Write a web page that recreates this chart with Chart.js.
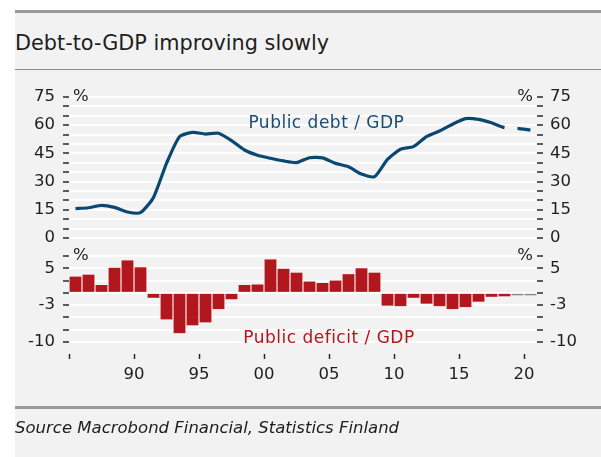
<!DOCTYPE html>
<html>
<head>
<meta charset="utf-8">
<title>Debt-to-GDP improving slowly</title>
<script src="https://cdn.jsdelivr.net/npm/chart.js@4.4.1/dist/chart.umd.min.js"></script>
<style>
  html, body { margin: 0; padding: 0; background: #fff; }
  body { width: 601px; height: 457px; position: relative; overflow: hidden; font-family: 'DejaVu Sans', sans-serif; color: #1e1e1e; }
  .panel { position: absolute; left: 15px; top: 10px; right: 0; bottom: 0; background: #f2f2f2; border-top: 3px solid #9a9a9a; }
  .title { position: absolute; left: 15px; top: 33px; font-size: 20.8px; line-height: 20px; white-space: nowrap; }
  .rule { position: absolute; left: 15px; right: 0; top: 69px; height: 1px; background: #8c8c8c; }
  .rule.foot { top: 406px; height: 3px; background: #9a9a9a; }
  .source { position: absolute; left: 15px; top: 419px; font-size: 16.5px; line-height: 17px; font-style: italic; white-space: nowrap; }
  canvas { position: absolute; left: 0; top: 0; }
</style>
</head>
<body>
<div class="panel"></div>
<div class="title">Debt-to-GDP improving slowly</div>
<div class="rule"></div>
<canvas id="debtChart" width="601" height="457"></canvas>
<div class="rule foot"></div>
<div class="source">Source Macrobond Financial, Statistics Finland</div>

<script>
// Finland: public debt and public deficit, % of GDP (2019-2020 forecast)
const years = [1985, 1986, 1987, 1988, 1989, 1990, 1991, 1992, 1993, 1994, 1995, 1996,
               1997, 1998, 1999, 2000, 2001, 2002, 2003, 2004, 2005, 2006, 2007, 2008,
               2009, 2010, 2011, 2012, 2013, 2014, 2015, 2016, 2017, 2018, 2019, 2020];
const debtRatio = [15.6, 16.1, 17.4, 16.3, 13.8, 13.5, 21.6, 39.7, 53.9, 56.2, 55.3, 55.7,
                   51.8, 46.8, 44.0, 42.4, 41.0, 40.1, 42.7, 42.6, 39.7, 37.9, 34.0, 32.6,
                   41.8, 47.2, 48.6, 53.9, 56.9, 60.5, 63.5, 63.1, 61.3, 58.7, 58.3, 57.4];
const deficitRatio = [3.3, 3.7, 1.6, 5.1, 6.6, 5.2, -1.0, -5.4, -8.2, -6.6, -6.0, -3.3,
                      -1.3, 1.6, 1.7, 6.8, 4.9, 4.1, 2.3, 2.0, 2.5, 3.8, 5.0, 4.1,
                      -2.6, -2.7, -1.0, -2.2, -2.7, -3.3, -2.9, -1.8, -0.8, -0.7, -0.5, -0.5];
const forecastFrom = 2019;

// axis ticks and the labels printed on them
const xTickValues = [1985, 1990, 1995, 2000, 2005, 2010, 2015, 2020];
const xTickLabels = ['', '90', '95', '00', '05', '10', '15', '20'];
const debtTickValues = [0, 5, 10, 15, 20, 25, 30, 35, 40, 45, 50, 55, 60, 65, 70, 75];
const debtTickLabels = { 0: '0', 15: '15', 30: '30', 45: '45', 60: '60', 75: '75' };
const deficitTickValues = [-10, -7.5, -5, -2.5, 0, 2.5, 5, 7.5];
const deficitTickLabels = { 5: '5', '-2.5': '-3', '-10': '-10' };

const DEBT_BLUE = '#0b4870';
const DEFICIT_RED = '#b2171e';
const FORECAST_GREY = '#8a8a8a';
const TEXT = '#1e1e1e';
const FONT = "'DejaVu Sans', sans-serif";

const forecastIndex = years.indexOf(forecastFrom);

function setTicks(values) {
    return scale => { scale.ticks = values.map(v => ({ value: v })); };
}

function yAxis(opts) {
    const onLeft = opts.position === 'left';
    return {
        type: 'linear',
        position: opts.position,
        stack: opts.position,
        stackWeight: opts.weight,
        min: opts.min,
        max: opts.max,
        afterBuildTicks: setTicks(opts.ticks),
        afterFit: scale => { scale.width = onLeft ? 69 : 64; },
        border: { display: false },
        grid: {
            drawOnChartArea: onLeft,
            color: '#ffffff',
            lineWidth: 2,
            tickColor: '#2a2a2a',
            tickWidth: 1.5,
            tickLength: 6
        },
        ticks: {
            autoSkip: false,
            padding: onLeft ? 8 : 7,
            color: TEXT,
            font: { family: FONT, size: 16.5 },
            callback: v => opts.labels[v] || ''
        }
    };
}

// "%" unit markers and the series captions
const captionsPlugin = {
    id: 'captions',
    afterDraw(chart) {
        const { ctx, chartArea, scales } = chart;
        ctx.save();
        ctx.font = `16.5px ${FONT}`;
        ctx.fillStyle = TEXT;
        ctx.textBaseline = 'middle';
        [[scales.yDebt, 75], [scales.yDef, 7.5]].forEach(([scale, top]) => {
            const y = scale.getPixelForValue(top);
            ctx.textAlign = 'left';
            ctx.fillText('%', chartArea.left + 4, y);
            ctx.textAlign = 'right';
            ctx.fillText('%', chartArea.right - 4, y);
        });

        ctx.font = `17px ${FONT}`;
        ctx.textAlign = 'left';
        ctx.textBaseline = 'alphabetic';
        ctx.letterSpacing = '0.5px';
        ctx.fillStyle = '#174d74';
        ctx.fillText('Public debt / GDP', scales.x.getPixelForValue(1998.8), scales.yDebt.getPixelForValue(58.5));
        ctx.fillStyle = DEFICIT_RED;
        ctx.fillText('Public deficit / GDP', scales.x.getPixelForValue(1998.4), scales.yDef.getPixelForValue(-10.2));
        ctx.restore();
    }
};

new Chart(document.getElementById('debtChart'), {
    data: {
        datasets: [
            {
                type: 'line',
                label: 'Public debt / GDP',
                data: years.map((y, i) => ({ x: y + 0.5, y: debtRatio[i] })),
                yAxisID: 'yDebt',
                borderColor: DEBT_BLUE,
                borderWidth: 3.2,
                borderJoinStyle: 'round',
                tension: 0.2,
                pointRadius: 0,
                segment: {
                    borderDash: c => c.p0DataIndex >= forecastIndex - 1 ? [13, 13] : undefined,
                    borderDashOffset: c => c.p0DataIndex >= forecastIndex - 1 ? 13 : 0
                }
            },
            {
                type: 'bar',
                label: 'Public deficit / GDP',
                data: years.map((y, i) => ({ x: y + 0.5, y: deficitRatio[i] })),
                yAxisID: 'yDef',
                backgroundColor: years.map(y => y >= forecastFrom ? FORECAST_GREY : DEFICIT_RED),
                categoryPercentage: 1,
                barPercentage: 0.91
            }
        ]
    },
    options: {
        responsive: false,
        animation: false,
        layout: { padding: { top: 97, left: 0, right: 0, bottom: 0 } },
        plugins: { legend: { display: false }, tooltip: { enabled: false } },
        scales: {
            x: {
                type: 'linear',
                min: 1985,
                max: 2021,
                offset: false,
                afterBuildTicks: setTicks(xTickValues),
                afterFit: scale => { scale.height = 103; },
                border: { display: false },
                grid: { offset: false, drawOnChartArea: false, tickColor: '#2a2a2a', tickWidth: 1.5, tickLength: 5 },
                ticks: {
                    autoSkip: false,
                    maxRotation: 0,
                    padding: 6,
                    color: TEXT,
                    font: { family: FONT, size: 16.5 },
                    callback: v => xTickLabels[xTickValues.indexOf(v)]
                }
            },
            // left boxes stack bottom-up in definition order, right ones top-down
            yDef: yAxis({ position: 'left', weight: 116, min: -12.44, max: 11.16, ticks: deficitTickValues, labels: deficitTickLabels }),
            yDebt: yAxis({ position: 'left', weight: 141, min: 0, max: 75, ticks: debtTickValues, labels: debtTickLabels }),
            yDebtR: yAxis({ position: 'right', weight: 141, min: 0, max: 75, ticks: debtTickValues, labels: debtTickLabels }),
            yDefR: yAxis({ position: 'right', weight: 116, min: -12.44, max: 11.16, ticks: deficitTickValues, labels: deficitTickLabels })
        }
    },
    plugins: [captionsPlugin]
});
</script>
</body>
</html>
